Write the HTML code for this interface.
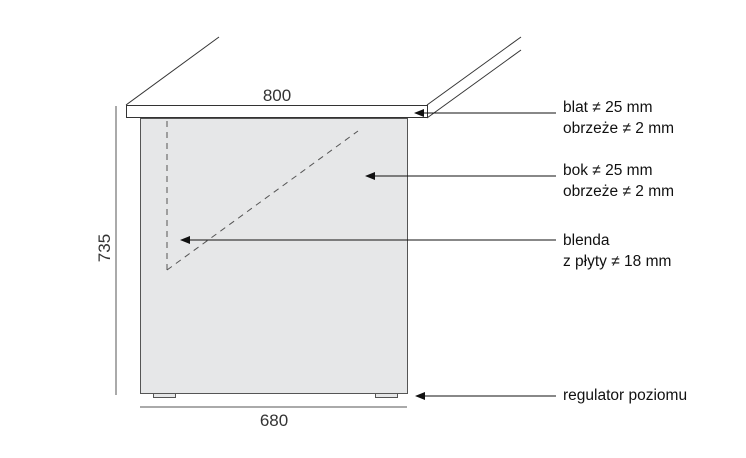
<!DOCTYPE html>
<html><head><meta charset="utf-8"><style>
html,body{margin:0;padding:0;background:#fff;}
svg{display:block;}
text{font-family:"Liberation Sans",sans-serif;}
</style></head><body>
<svg width="746" height="458" viewBox="0 0 746 458" xmlns="http://www.w3.org/2000/svg">
<defs>
<marker id="a" markerWidth="10" markerHeight="8" refX="9" refY="4" orient="auto" markerUnits="userSpaceOnUse">
<path d="M0,0 L10,4 L0,8 Z" fill="#111"/></marker>
</defs>
<rect x="140.5" y="118.5" width="267" height="275" fill="#e6e7e8" stroke="#555" stroke-width="1"/>
<rect x="153.5" y="393.5" width="22" height="4" fill="#e6e7e8" stroke="#555"/>
<rect x="375.5" y="393.5" width="22" height="4" fill="#e6e7e8" stroke="#555"/>
<rect x="126.5" y="105.5" width="301" height="12" fill="#fff" stroke="#333"/>
<line x1="126" y1="105" x2="219" y2="37" stroke="#333"/>
<line x1="427" y1="105" x2="521" y2="37" stroke="#333"/>
<line x1="427" y1="118" x2="521" y2="50" stroke="#333"/>
<line x1="167" y1="121" x2="167" y2="270" stroke="#555" stroke-dasharray="6,5"/>
<line x1="167" y1="270" x2="358" y2="131" stroke="#555" stroke-dasharray="6,5"/>
<line x1="116" y1="106" x2="116" y2="395" stroke="#555"/>
<line x1="140" y1="407" x2="407" y2="407" stroke="#555"/>
<text x="277" y="101" font-size="17" fill="#333" text-anchor="middle">800</text>
<text x="274" y="426" font-size="17" fill="#333" text-anchor="middle">680</text>
<text transform="translate(110,248) rotate(-90)" font-size="17" fill="#333" text-anchor="middle">735</text>
<line x1="556" y1="113" x2="415" y2="113" stroke="#111" marker-end="url(#a)"/>
<line x1="556" y1="176" x2="366" y2="176" stroke="#111" marker-end="url(#a)"/>
<line x1="556" y1="240" x2="181" y2="240" stroke="#111" marker-end="url(#a)"/>
<line x1="556" y1="396" x2="416" y2="396" stroke="#111" marker-end="url(#a)"/>
<g font-size="15.5" fill="#111">
<text x="563" y="112">blat ≠ 25 mm</text>
<text x="563" y="133">obrzeże ≠ 2 mm</text>
<text x="563" y="175">bok ≠ 25 mm</text>
<text x="563" y="196">obrzeże ≠ 2 mm</text>
<text x="563" y="245">blenda</text>
<text x="563" y="266">z płyty ≠ 18 mm</text>
<text x="563" y="400">regulator poziomu</text>
</g>
</svg>
</body></html>
